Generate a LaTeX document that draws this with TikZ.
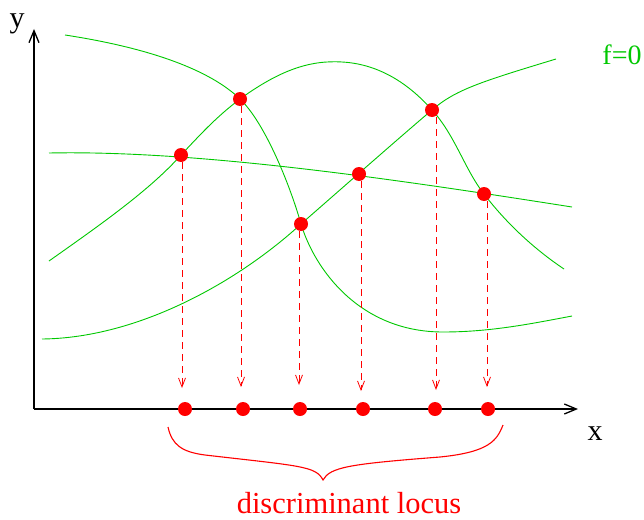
\documentclass[tikz,border=0pt]{standalone}
\usepackage{fontspec}
\setmainfont{Liberation Serif}
\usetikzlibrary{arrows.meta}
\definecolor{fgreen}{RGB}{0,200,0}
\begin{document}
\begin{tikzpicture}[x=1pt,y=-1pt,
  curve/.style={draw=fgreen, line width=0.9pt},
  dot/.style={circle, fill=red, draw=none, inner sep=0pt, minimum size=14pt},
  proj/.style={draw=red, line width=0.8pt, dash pattern=on 7pt off 5pt, -{Straight Barb[length=9pt,width=7pt]}},
  axis/.style={draw=black, line width=1.3pt, -{Straight Barb[length=12pt,width=10pt]}},
  lbl/.style={font=\fontsize{30}{32}\selectfont, anchor=base, inner sep=0pt}]
\useasboundingbox (0,0) rectangle (644,519);

% axes
\coordinate (O) at (34,409);
\coordinate (Yend) at (34,29);
\coordinate (Xend) at (578,409);
\draw[axis] (O) -- (Yend);
\draw[axis] (O) -- (Xend);
\node[lbl] (ylab) at (17,28) {y};
\node[lbl] (xlab) at (595,440) {x};
\node[lbl, text=fgreen, font=\fontsize{28}{30}\selectfont] (flab) at (622,64) {f=0};

% green curves
\draw[curve] (65,35) .. controls (150,48) and (210,70) .. (240,99)
  .. controls (265,123) and (290,185) .. (301,224)
  .. controls (315,270) and (360,332) .. (443,332)
  .. controls (490,332) and (530,324) .. (572,316);
\draw[curve] (49,261) .. controls (100,225) and (150,190) .. (181,155)
  .. controls (200,135) and (215,118) .. (240,99)
  .. controls (280,70) and (310,60) .. (342,62)
  .. controls (380,64) and (410,85) .. (432,110)
  .. controls (455,135) and (465,170) .. (484,194)
  .. controls (510,228) and (540,253) .. (564,269);
\draw[curve] (49,153) .. controls (200,150) and (400,180) .. (572,207);
\draw[curve] (42,339) .. controls (140,338) and (240,280) .. (301,224)
  .. controls (340,190) and (400,137) .. (432,110)
  .. controls (455,90) and (480,82) .. (556,59);

% intersection points
\node[dot] (p1) at (181,155) {};
\node[dot] (p2) at (240,99) {};
\node[dot] (p3) at (301,224) {};
\node[dot] (p4) at (359,174) {};
\node[dot] (p5) at (432,110) {};
\node[dot] (p6) at (484,194) {};

% projected points
\node[dot] (q1) at (185,409) {};
\node[dot] (q2) at (243,409) {};
\node[dot] (q3) at (300,409) {};
\node[dot] (q4) at (363,409) {};
\node[dot] (q5) at (435,409) {};
\node[dot] (q6) at (488,409) {};

% arrow tips
\coordinate (t1) at (182,388);
\coordinate (t2) at (241,387);
\coordinate (t3) at (299,385);
\coordinate (t4) at (361,391);
\coordinate (t5) at (436,390);
\coordinate (t6) at (487,387);
\foreach \i in {1,...,6} {
  \draw[proj] (t\i |- p\i.south) -- (t\i);
}

% brace
\draw[red, line width=1.1pt] (168,427) .. controls (172,445) and (182,452) .. (205,455)
  .. controls (300,466) and (316,466) .. (323,480)
  .. controls (330,467) and (350,464) .. (440,457)
  .. controls (490,452) and (497,440) .. (503,425);
\node[lbl, text=red, font=\fontsize{30.5}{32}\selectfont] (disc) at (349,513) {discriminant locus};
\end{tikzpicture}
\end{document}
